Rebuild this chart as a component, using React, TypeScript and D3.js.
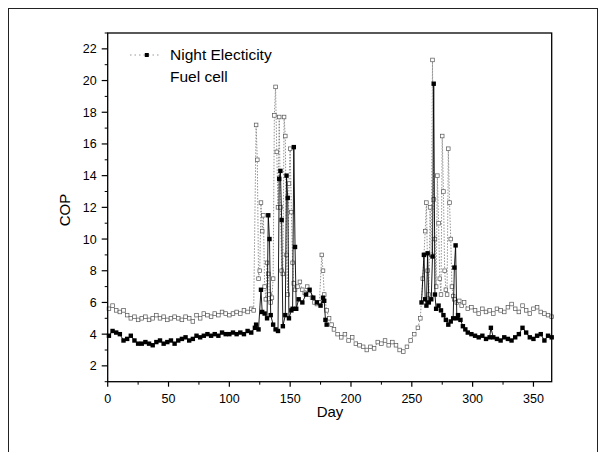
import React from "react";
import * as d3 from "d3";

const nightDays = [1,4,7,10,13,16,19,22,25,28,31,34,37,40,43,46,49,52,55,58,61,64,67,70,73,76,79,82,85,88,91,94,97,100,103,106,109,112,115,118,121,
122,124,126,127,129,131,132,133,134,136,138,140,141,142,143,144,146,147,148,149,151,152,153,154,155,157,160,163,166,169,172,175,177,178,179,180,
220,
258,260,261,262,263,264,266,267,268,269,270,272,274,276,278,280,282,284,285,286,287,288,290,292,294,296,299,302,305,308,311,314,315,317,320,323,326,329,332,335,338,341,344,347,350,353,356,359,362,365];
const nightCop: (number | null)[] = [3.9,4.2,4.1,4.0,3.6,3.7,3.9,3.6,3.4,3.4,3.5,3.4,3.3,3.5,3.6,3.4,3.5,3.6,3.4,3.6,3.7,3.8,3.6,3.7,3.9,3.8,3.9,4.0,3.9,4.0,3.9,4.1,4.0,4.0,4.1,4.0,4.1,4.0,4.2,4.1,4.4,
4.6,4.3,6.8,5.4,5.3,5.0,11.5,10.0,5.2,4.6,4.3,4.2,13.8,14.3,11.2,4.5,5.2,14.0,12.6,5.0,5.5,5.6,15.8,9.5,5.6,6.2,6.0,6.5,6.8,6.3,6.0,5.8,6.3,6.1,4.9,4.6,
null,
6.0,9.0,6.2,5.8,9.1,6.0,6.2,8.9,19.8,6.5,5.6,5.8,5.5,5.2,4.9,4.6,4.8,5.0,8.2,9.6,5.0,5.2,4.9,4.5,4.3,4.1,4.0,3.9,3.8,3.9,3.7,3.8,4.4,3.8,3.7,3.6,3.8,3.7,3.6,3.8,4.0,4.4,4.1,3.8,3.7,3.9,4.0,3.6,3.9,3.8];

const fuelDays = [1,4,7,10,13,16,19,22,25,28,31,34,37,40,43,46,49,52,55,58,61,64,67,70,73,76,79,82,85,88,91,94,97,100,103,106,109,112,115,118,120,
122,123,124,125,126,127,128,129,130,131,132,133,134,135,136,137,138,139,140,141,142,143,144,145,146,147,148,149,150,151,152,153,154,156,158,160,162,164,166,168,170,172,174,176,177,178,180,182,184,
186,189,192,195,198,201,204,207,210,213,216,219,222,225,228,231,234,237,240,243,246,249,252,255,257,
259,260,261,262,263,264,265,266,267,268,269,270,271,272,273,274,275,276,277,278,279,280,281,282,283,284,285,287,289,291,293,296,299,302,305,308,311,314,317,320,323,326,329,332,335,338,341,344,347,350,353,356,359,362,365];
const fuelCop = [5.6,5.8,5.5,5.4,5.5,5.2,5.0,5.1,4.9,5.0,5.1,4.9,5.0,5.2,5.0,5.1,4.9,5.0,5.1,5.0,4.9,5.1,5.0,4.8,5.2,5.0,5.3,5.2,5.1,5.3,5.2,5.4,5.3,5.2,5.3,5.4,5.3,5.5,5.4,5.6,5.5,
17.2,15.0,7.5,8.0,12.3,10.5,11.5,7.0,6.2,8.5,7.8,6.5,6.0,6.3,7.5,17.8,19.6,15.5,12.0,17.7,12.0,8.0,7.8,17.7,16.5,9.0,6.5,13.5,15.7,11.7,8.5,7.2,6.8,7.0,7.3,6.8,6.6,7.0,6.5,6.3,6.0,5.9,6.0,9.0,8.0,6.5,5.5,5.0,4.6,
4.3,4.0,3.8,4.0,3.6,3.8,3.4,3.3,3.2,3.0,3.2,3.1,3.5,3.4,3.6,3.3,3.5,3.3,3.0,2.9,3.2,3.6,4.0,4.4,5.0,
7.5,9.0,10.5,12.3,8.0,6.5,12.0,9.0,21.3,12.5,10.0,7.0,14.0,11.0,7.5,6.5,16.5,13.0,8.0,6.8,6.5,15.7,12.3,10.0,7.0,6.4,6.2,6.0,6.1,5.8,6.0,5.6,5.7,5.5,5.3,5.6,5.4,5.5,5.3,5.6,5.5,5.4,5.7,5.9,5.6,5.4,5.8,5.5,5.3,5.6,5.7,5.4,5.3,5.2,5.1];

const xTicks = [0,50,100,150,200,250,300,350];
const xMinor = [25,75,125,175,225,275,325];
const yTicks = [2,4,6,8,10,12,14,16,18,20,22];
const yMinor = [1,3,5,7,9,11,13,15,17,19,21,23];
const legendLabels = ["Night Electicity", "Fuel cell"];

const L = 107.7, R = 551.7, T = 33, B = 381.7;
const FONT = "'Liberation Sans', Arial, sans-serif";

export default function App() {
  const x = d3.scaleLinear().domain([0, 365]).range([L, R]);
  const y = d3.scaleLinear().domain([1, 23]).range([B, T]);

  const night = nightDays.map((d, i) => ({ d, v: nightCop[i] }));
  const fuel = fuelDays.map((d, i) => ({ d, v: fuelCop[i] }));

  const nightLine = d3.line<{ d: number; v: number | null }>()
    .defined(p => p.v != null)
    .x(p => x(p.d))
    .y(p => y(p.v as number));
  const fuelLine = d3.line<{ d: number; v: number }>()
    .x(p => x(p.d))
    .y(p => y(p.v));

  return (
    <svg width={606} height={452} style={{ position: "absolute", left: 0, top: 0, background: "#fff" }} fontFamily={FONT}>
      <rect x={8.5} y={8.5} width={589} height={470} fill="none" stroke="#222" strokeWidth={1} />
      {/* fuel cell */}
      <path d={fuelLine(fuel) || ""} fill="none" stroke="#777" strokeWidth={0.8} strokeDasharray="1.5,1.5" />
      {fuel.map((p, i) => (
        <rect key={"f" + i} x={x(p.d) - 1.8} y={y(p.v) - 1.8} width={3.6} height={3.6} fill="#fff" stroke="#555" strokeWidth={0.7} />
      ))}
      {/* night */}
      <path d={nightLine(night) || ""} fill="none" stroke="#000" strokeWidth={0.9} />
      {night.filter(p => p.v != null).map((p, i) => (
        <rect key={"n" + i} x={x(p.d) - 2.2} y={y(p.v as number) - 2.2} width={4.4} height={4.4} fill="#000" />
      ))}
      {/* frame */}
      <rect x={L} y={T} width={R - L} height={B - T} fill="none" stroke="#000" strokeWidth={1.3} />
      {xTicks.map(t => (
        <g key={"xt" + t}>
          <line x1={x(t)} x2={x(t)} y1={B} y2={B + 5} stroke="#000" strokeWidth={1.2} />
          <text x={x(t)} y={403} fontSize={12.5} textAnchor="middle" fill="#000">{t}</text>
        </g>
      ))}
      {xMinor.map(t => (
        <line key={"xm" + t} x1={x(t)} x2={x(t)} y1={B} y2={B + 3} stroke="#000" strokeWidth={1} />
      ))}
      {yTicks.map(t => (
        <g key={"yt" + t}>
          <line x1={L - 6} x2={L} y1={y(t)} y2={y(t)} stroke="#000" strokeWidth={1.2} />
          <text x={L - 11} y={y(t) + 4.5} fontSize={12.5} textAnchor="end" fill="#000">{t}</text>
        </g>
      ))}
      {yMinor.map(t => (
        <line key={"ym" + t} x1={L - 3} x2={L} y1={y(t)} y2={y(t)} stroke="#000" strokeWidth={1} />
      ))}
      <text x={330} y={417} fontSize={15} textAnchor="middle" fill="#000">Day</text>
      <text transform="translate(70,210) rotate(-90)" fontSize={15} textAnchor="middle" fill="#000">COP</text>
      {/* legend */}
      <line x1={130} x2={160} y1={55} y2={55} stroke="#999" strokeWidth={1} strokeDasharray="1.5,3" />
      <rect x={144.8} y={53} width={4} height={4} fill="#000" />
      <text x={170} y={59.5} fontSize={15.5} fill="#000">{legendLabels[0]}</text>
      <text x={170} y={81.5} fontSize={15.5} fill="#000">{legendLabels[1]}</text>
    </svg>
  );
}
